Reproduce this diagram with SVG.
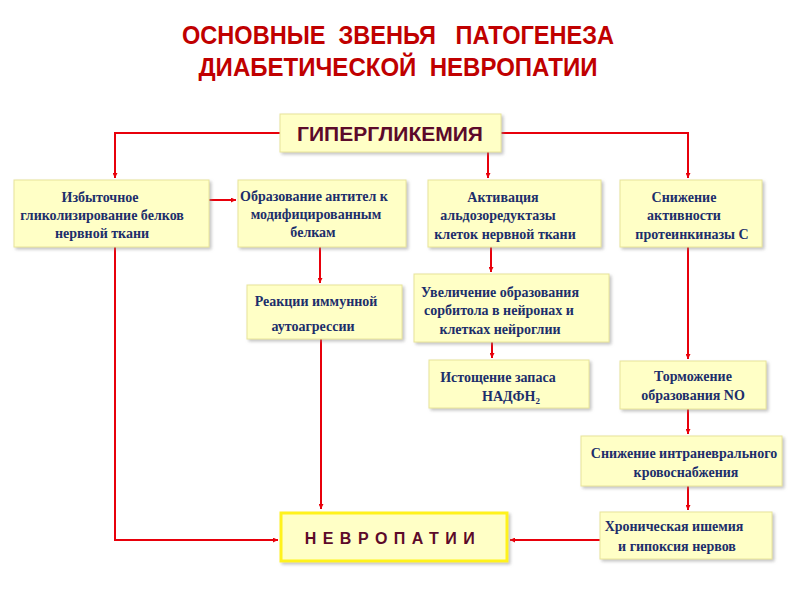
<svg xmlns="http://www.w3.org/2000/svg" width="800" height="600" viewBox="0 0 800 600">
<style>
.box{fill:#ffffc6;stroke:#e8e49a;stroke-width:1}
.sh{fill:#bdbdb0;opacity:0.6}
.t{font-family:"Liberation Serif","Times New Roman",serif;font-weight:bold;font-size:14px;fill:#1c2e6b;text-anchor:middle}
.title{font-family:"Liberation Sans",Arial,sans-serif;font-weight:bold;font-size:26px;fill:#c00000;text-anchor:middle}
.big{font-family:"Liberation Sans",Arial,sans-serif;font-weight:bold;fill:#5c0a2a;text-anchor:middle}
.c{fill:none;stroke:#e8000b;stroke-width:2}
</style>
<defs>
<marker id="ah" viewBox="0 0 10 10" refX="10" refY="5" markerWidth="5" markerHeight="5" orient="auto" markerUnits="userSpaceOnUse">
<path d="M0,0 L10,5 L0,10 z" fill="#e8000b"/>
</marker>
<filter id="ds" x="-10%" y="-10%" width="130%" height="140%">
<feDropShadow dx="2" dy="2" stdDeviation="1.5" flood-color="#888" flood-opacity="0.5"/>
</filter>
</defs>
<rect width="800" height="600" fill="#fff"/>
<g id="title">
<text class="title" x="398" y="44" textLength="432" lengthAdjust="spacingAndGlyphs" xml:space="preserve">ОСНОВНЫЕ  ЗВЕНЬЯ   ПАТОГЕНЕЗА</text>
<text class="title" x="398" y="76" textLength="399" lengthAdjust="spacingAndGlyphs" xml:space="preserve">ДИАБЕТИЧЕСКОЙ  НЕВРОПАТИИ</text>
</g>
<g id="connectors">
<path class="c" d="M280,133 H115 V178" marker-end="url(#ah)"/>
<path class="c" d="M501,133 H688 V178" marker-end="url(#ah)"/>
<path class="c" d="M488,152 V178" marker-end="url(#ah)"/>
<path class="c" d="M209,200 H236" marker-end="url(#ah)"/>
<path class="c" d="M320,247 V283" marker-end="url(#ah)"/>
<path class="c" d="M491,247 V272" marker-end="url(#ah)"/>
<path class="c" d="M492,342 V358" marker-end="url(#ah)"/>
<path class="c" d="M688,247 V359" marker-end="url(#ah)"/>
<path class="c" d="M688,409 V434" marker-end="url(#ah)"/>
<path class="c" d="M688,486 V510" marker-end="url(#ah)"/>
<path class="c" d="M321,339 V509" marker-end="url(#ah)"/>
<path class="c" d="M115,247 V540 H278" marker-end="url(#ah)"/>
<path class="c" d="M600,540 H510" marker-end="url(#ah)"/>
</g>
<g id="hyperglycemia">
<rect class="box" x="280" y="114" width="221" height="38" filter="url(#ds)"/>
<text class="big" x="390" y="141" font-size="21">ГИПЕРГЛИКЕМИЯ</text>
</g>
<g id="n1">
<rect class="box" x="14" y="180" width="195" height="67" filter="url(#ds)"/>
<text class="t" x="100" y="202">Избыточное</text>
<text class="t" x="102" y="220">гликолизирование белков</text>
<text class="t" x="102" y="238">нервной ткани</text>
</g>
<g id="n2">
<rect class="box" x="238" y="180" width="168" height="67" filter="url(#ds)"/>
<text class="t" x="314" y="201">Образование антител к</text>
<text class="t" x="316" y="219">модифицированным</text>
<text class="t" x="313" y="237">белкам</text>
</g>
<g id="n3">
<rect class="box" x="428" y="180" width="173" height="67" filter="url(#ds)"/>
<text class="t" x="503" y="202">Активация</text>
<text class="t" x="498" y="220">альдозоредуктазы</text>
<text class="t" x="505" y="239">клеток нервной ткани</text>
</g>
<g id="n4">
<rect class="box" x="620" y="180" width="142" height="67" filter="url(#ds)"/>
<text class="t" x="684" y="202">Снижение</text>
<text class="t" x="684" y="220">активности</text>
<text class="t" x="692" y="239">протеинкиназы С</text>
</g>
<g id="n5">
<rect class="box" x="247" y="285" width="155" height="54" filter="url(#ds)"/>
<text class="t" x="316" y="306">Реакции иммунной</text>
<text class="t" x="313" y="331">аутоагрессии</text>
</g>
<g id="n6">
<rect class="box" x="414" y="274" width="195" height="68" filter="url(#ds)"/>
<text class="t" x="500" y="297">Увеличение образования</text>
<text class="t" x="499" y="315">сорбитола в нейронах и</text>
<text class="t" x="500" y="334">клетках нейроглии</text>
</g>
<g id="n7">
<rect class="box" x="429" y="360" width="160" height="48" filter="url(#ds)"/>
<text class="t" x="498" y="382">Истощение запаса</text>
<text class="t" x="511" y="401">НАДФН<tspan font-size="9" dy="3">2</tspan></text>
</g>
<g id="n8">
<rect class="box" x="620" y="361" width="146" height="48" filter="url(#ds)"/>
<text class="t" x="693" y="381">Торможение</text>
<text class="t" x="693" y="400">образования NO</text>
</g>
<g id="n9">
<rect class="box" x="581" y="436" width="201" height="50" filter="url(#ds)"/>
<text class="t" x="684" y="458">Снижение интраневрального</text>
<text class="t" x="686" y="477">кровоснабжения</text>
</g>
<g id="n10">
<rect class="box" x="600" y="512" width="172" height="47" filter="url(#ds)"/>
<text class="t" x="674" y="531">Хроническая ишемия</text>
<text class="t" x="677" y="551">и гипоксия нервов</text>
</g>
<g id="neuropathy">
<rect x="281" y="513" width="226" height="48" fill="#ffffc6" stroke="#fff21a" stroke-width="3" filter="url(#ds)"/>
<text class="big" x="393" y="544" font-size="16" letter-spacing="6.5">НЕВРОПАТИИ</text>
</g>
</svg>
